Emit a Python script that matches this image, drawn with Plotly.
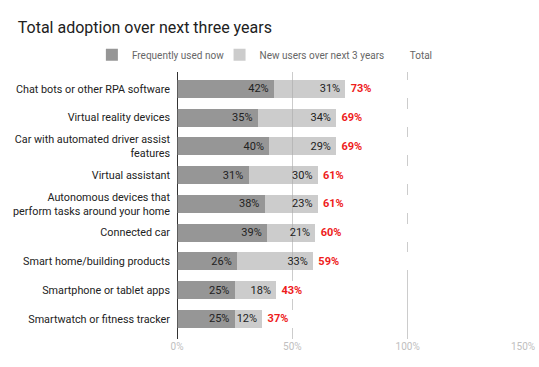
import plotly.graph_objects as go

categories = [
    "Chat bots or other RPA software",
    "Virtual reality devices",
    "Car with automated driver assist<br>features",
    "Virtual assistant",
    "Autonomous devices that<br>perform tasks around your home",
    "Connected car",
    "Smart home/building products",
    "Smartphone or tablet apps",
    "Smartwatch or fitness tracker",
]
frequently_now = [42, 35, 40, 31, 38, 39, 26, 25, 25]
new_users = [31, 34, 29, 30, 23, 21, 33, 18, 12]
total = [73, 69, 69, 61, 61, 60, 59, 43, 37]
x_ticks = [0, 50, 100, 150]

FONT = "Roboto"
label_font = dict(family=FONT, size=11, color="#222222")
THIN = "\u2009"

fig = go.Figure()
fig.add_trace(go.Bar(
    y=categories, x=frequently_now, orientation="h", name="Frequently used now",
    marker=dict(color="rgba(110,110,110,0.72)", line=dict(width=0)),
    text=[f"{v}%{THIN}" for v in frequently_now], textposition="inside",
    insidetextanchor="end", textfont=label_font, constraintext="none",
    hoverinfo="skip", legend="legend",
))
fig.add_trace(go.Bar(
    y=categories, x=new_users, orientation="h", name="New users over next 3 years",
    marker=dict(color="rgba(170,170,170,0.6)", line=dict(width=0)),
    text=[f"{v}%{THIN}" for v in new_users], textposition="inside",
    insidetextanchor="end", textfont=label_font, constraintext="none",
    hoverinfo="skip", legend="legend2",
))
fig.add_trace(go.Bar(
    y=categories, x=total, orientation="h", name="Total",
    marker=dict(color="#ffffff", line=dict(width=0)),
    text=[f"{THIN}{v}%" for v in total], textposition="inside",
    insidetextanchor="start",
    textfont=dict(family=FONT, size=11, color="#ee1c1c", weight="bold"),
    constraintext="none", hoverinfo="skip", showlegend=False,
))
# legend-only entry for "Total" (no visible swatch, as in the reference)
fig.add_trace(go.Bar(
    y=[categories[0]], x=[None], orientation="h", name="Total",
    marker=dict(color="rgba(0,0,0,0)", line=dict(width=0)),
    hoverinfo="skip", legend="legend3", showlegend=True,
))

legend_common = dict(orientation="h", xref="paper", xanchor="left",
                     yref="paper", y=1.065, yanchor="middle",
                     font=dict(family=FONT, size=10, color="#666666"),
                     itemwidth=30, bgcolor="rgba(0,0,0,0)")

fig.update_layout(
    width=539, height=367,
    barmode="stack", bargap=0.374,
    paper_bgcolor="white", plot_bgcolor="white",
    margin=dict(l=177, r=16, t=72, b=28, autoexpand=False),
    font=dict(family=FONT, color="#222222"),
    title=dict(text="Total adoption over next three years", xref="container",
               x=0.033, xanchor="left", yref="container", y=0.925, yanchor="middle",
               pad=dict(l=0, r=0, t=0, b=0),
               font=dict(family=FONT, size=16, color="#212121")),
    legend=dict(legend_common, x=-0.246),
    legend2=dict(legend_common, x=0.123),
    legend3=dict(legend_common, x=0.557),
    showlegend=True,
)
fig.update_xaxes(
    range=[0, 150], tickvals=x_ticks, ticktext=[f"{v}%" for v in x_ticks],
    showgrid=True, gridcolor="#cccccc", gridwidth=1,
    zeroline=True, zerolinecolor="#333333", zerolinewidth=1,
    tickfont=dict(family=FONT, size=10, color="#c0c0c0"),
    showline=False, ticks="", fixedrange=True, automargin=False,
)
fig.update_yaxes(
    range=[8.7, -0.59], showgrid=False, ticks="", ticklabelstandoff=6,
    tickfont=dict(family=FONT, size=10.8, color="#222222"), fixedrange=True,
    automargin=False,
)

fig.write_html("out.html", config={"displayModeBar": False},
               post_script="document.body.style.margin='0';document.body.style.overflow='hidden';")
